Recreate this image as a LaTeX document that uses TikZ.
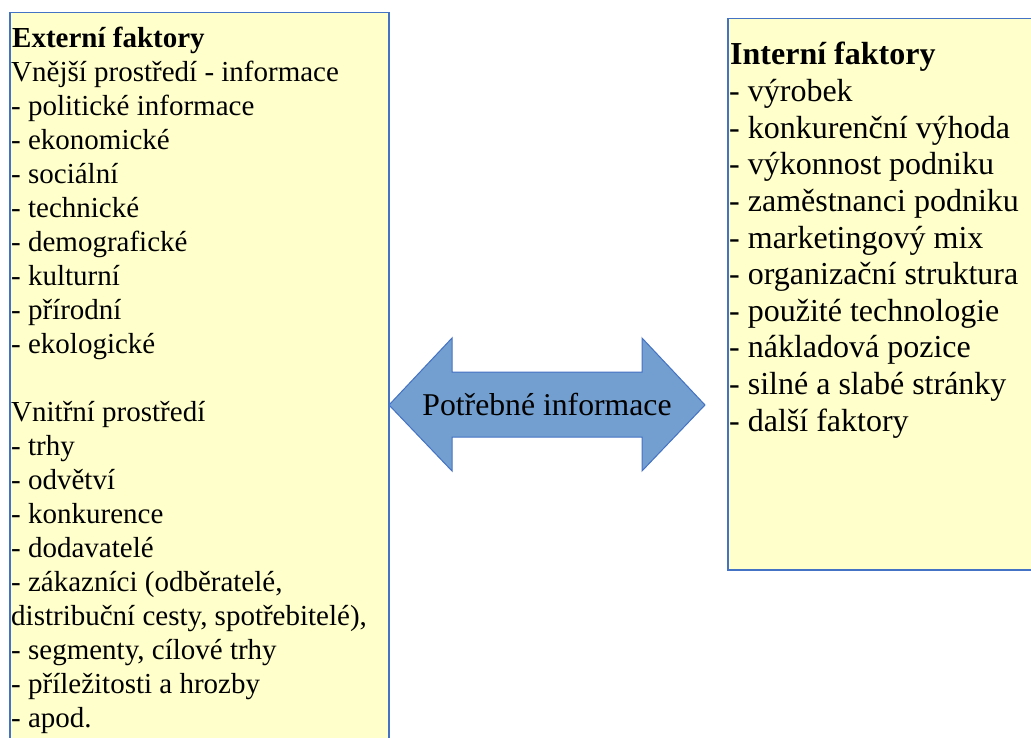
\documentclass[tikz,border=0pt]{standalone}
\usepackage{fontspec}
\setmainfont{Liberation Serif}
\definecolor{boxfill}{RGB}{255,255,204}
\definecolor{boxline}{RGB}{68,114,196}
\definecolor{arrfill}{RGB}{114,159,207}
\definecolor{arrline}{RGB}{68,114,196}
\begin{document}
\begin{tikzpicture}[x=1pt,y=-1pt,
  infobox/.style={draw=boxline,fill=boxfill,line width=1.5pt,anchor=north west,inner sep=0pt},
  lefttxt/.style={anchor=base west,inner sep=0pt,font=\fontsize{29}{34}\selectfont},
  righttxt/.style={anchor=base west,inner sep=0pt,font=\fontsize{32}{37}\selectfont},
  arrtxt/.style={anchor=base,inner sep=0pt,font=\fontsize{31.7}{37}\selectfont}]
\useasboundingbox (0,0) rectangle (1031,738);
\begin{scope}
\clip (0,0) rectangle (1031,738);
\node[infobox,minimum width=379pt,minimum height=740pt] (ext) at (9,12) {};
\node[infobox,minimum width=320pt,minimum height=551pt] (int) at (727,18) {};
\draw[draw=arrline,fill=arrfill,line width=1pt,line join=miter]
  (389,405) -- (452,338) -- (452,372) -- (642,372) -- (642,338) -- (705,405)
  -- (642,471) -- (642,437) -- (452,437) -- (452,471) -- cycle;
\end{scope}
\node[arrtxt] (arr) at (547,415) {Potřebné informace};
\node[lefttxt] (L0) at (12,48) {\bfseries Externí faktory};
\foreach \t [count=\i] in {{Vnější prostředí - informace},{- politické informace},{- ekonomické},{- sociální},{- technické},{- demografické},{- kulturní},{- přírodní},{- ekologické},{},{Vnitřní prostředí},{- trhy},{- odvětví},{- konkurence},{- dodavatelé},{- zákazníci (odběratelé,},{distribuční cesty, spotřebitelé),},{- segmenty, cílové trhy},{- příležitosti a hrozby},{- apod.}}
  \node[lefttxt] (L\i) at (11,48+33.95*\i) {\t};
\node[righttxt] (R0) at (730,65) {\bfseries Interní faktory};
\foreach \t [count=\i] in {{- výrobek},{- konkurenční výhoda},{- výkonnost podniku},{- zaměstnanci podniku},{- marketingový mix},{- organizační struktura},{- použité technologie},{- nákladová pozice},{- silné a slabé stránky},{- další faktory}}
  \node[righttxt] (R\i) at (729,65+36.6*\i) {\t};
\end{tikzpicture}
\end{document}
